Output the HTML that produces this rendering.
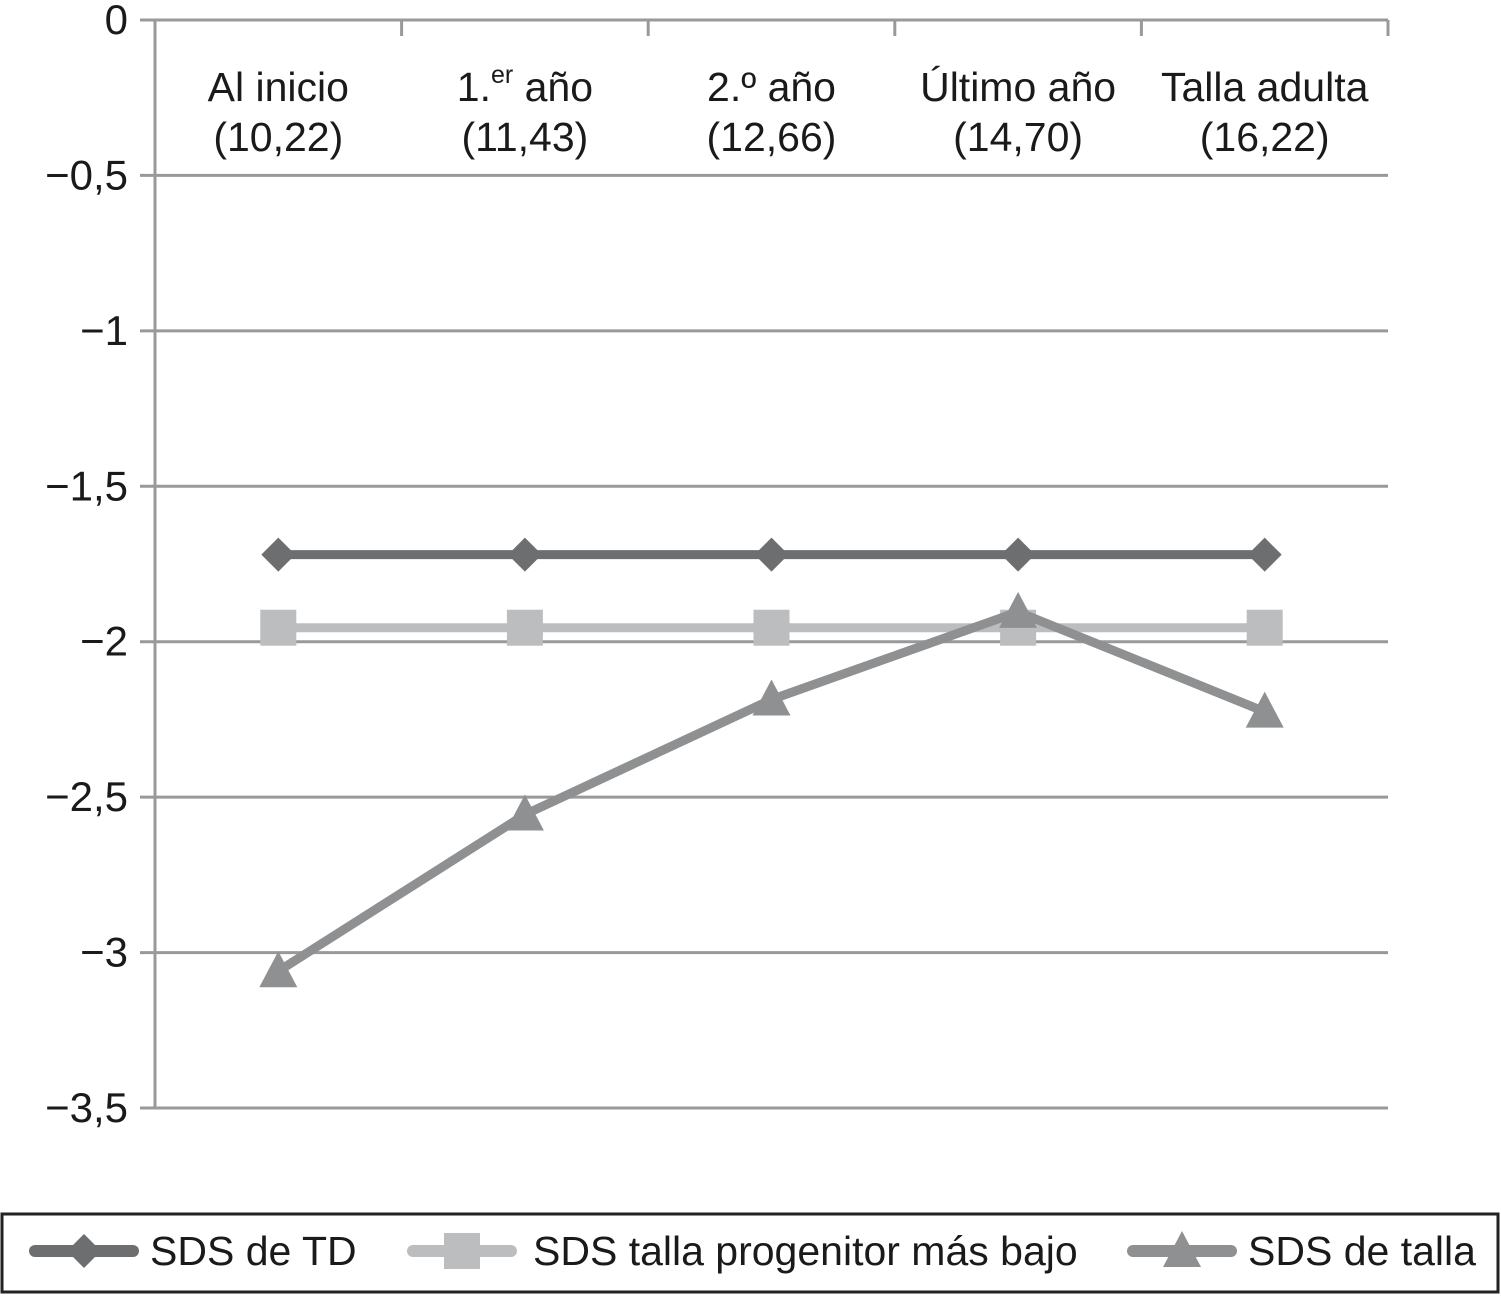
<!DOCTYPE html>
<html><head><meta charset="utf-8"><style>
body{margin:0;background:#fff;}
svg text{font-family:"Liberation Sans",sans-serif;fill:#1a1a1a;}
</style></head><body>
<svg id="c" width="1501" height="1295"></svg>
<script>
const categories=["Al inicio","1.er año","2.º año","Último año","Talla adulta"];
const ages=["(10,22)","(11,43)","(12,66)","(14,70)","(16,22)"];
const yTicks=[0,-0.5,-1,-1.5,-2,-2.5,-3,-3.5];
const yTickLabels=["0","\u22120,5","\u22121","\u22121,5","\u22122","\u22122,5","\u22123","\u22123,5"];
const sdsTD=[-1.72,-1.72,-1.72,-1.72,-1.72];
const sdsProgenitor=[-1.955,-1.955,-1.955,-1.955,-1.955];
const sdsTalla=[-3.06,-2.556,-2.186,-1.904,-2.225];
const NS="http://www.w3.org/2000/svg";
const svg=document.getElementById('c');
const x0=155,x1=1388,yTop=20,yBot=1108;
const y=v=>yTop+(0-v)/3.5*(yBot-yTop);
const band=(x1-x0)/categories.length;
const x=i=>x0+band*(i+0.5);
function mk(t,a){const e=document.createElementNS(NS,t);for(const k in a)e.setAttribute(k,a[k]);svg.appendChild(e);return e;}
yTicks.forEach((v,i)=>{
 const g=mk('line',{x1:140,x2:x1,y1:y(v),y2:y(v),stroke:'#999',"stroke-width":3});
 
 
 const t=mk('text',{x:128,y:y(v)+14,"text-anchor":"end","font-size":42});
 t.textContent=yTickLabels[i];
 
 
});
const ax=mk('line',{x1:x0,x2:x0,y1:yTop,y2:yBot,stroke:'#999',"stroke-width":3});


for(let i=1;i<=categories.length;i++){
 const tk=mk('line',{x1:x0+band*i,x2:x0+band*i,y1:yTop,y2:yTop+16,stroke:'#999',"stroke-width":3});
 
 
}
categories.forEach((c,i)=>{
 const t=mk('text',{x:x(i),y:101,"text-anchor":"middle","font-size":41});
 if(c==="1.er año"){t.innerHTML='1.<tspan dy="-18" font-size="25">er</tspan><tspan dy="18"> año</tspan>';}
 else t.textContent=c;
 
 
 const a=mk('text',{x:x(i),y:151,"text-anchor":"middle","font-size":41});
 a.textContent=ages[i];
 
 
});
function marker(type,cx,cy,col){
 let e;
 if(type==='d')e=mk('polygon',{points:`${cx},${cy-17} ${cx+17},${cy} ${cx},${cy+17} ${cx-17},${cy}`,fill:col});
 else if(type==='s')e=mk('rect',{x:cx-18,y:cy-18,width:36,height:36,fill:col});
 else e=mk('polygon',{points:`${cx},${cy-20} ${cx+19},${cy+16} ${cx-19},${cy+16}`,fill:col});
 return e;
}
function series(vals,col,type,name){
 const l=mk('polyline',{points:vals.map((v,i)=>x(i)+','+y(v)).join(' '),fill:'none',stroke:col,"stroke-width":9,"stroke-linejoin":"round"});
 
 
 vals.forEach((v,i)=>{const m=marker(type,x(i),y(v),col);
  
  });
}
series(sdsTD,'#6d6e70','d','sds-td');
series(sdsProgenitor,'#bcbdbf','s','sds-progenitor');
series(sdsTalla,'#8f9092','t','sds-talla');
const lb=mk('rect',{x:2,y:1214,width:1496,height:78,fill:'none',stroke:'#222',"stroke-width":3});


const leg=[['SDS de TD','#6d6e70','d',35,150],['SDS talla progenitor más bajo','#bcbdbf','s',413,533],['SDS de talla','#8f9092','t',1133,1248]];
leg.forEach(e=>{
 const l=mk('line',{x1:e[3],x2:e[3]+98,y1:1251,y2:1251,stroke:e[1],"stroke-width":12,"stroke-linecap":"round"});
 
 
 marker(e[2],e[3]+49,1251,e[1]);
 const t=mk('text',{x:e[4],y:1265,"font-size":41});
 t.textContent=e[0];
 
 
});
</script>
</body></html>
